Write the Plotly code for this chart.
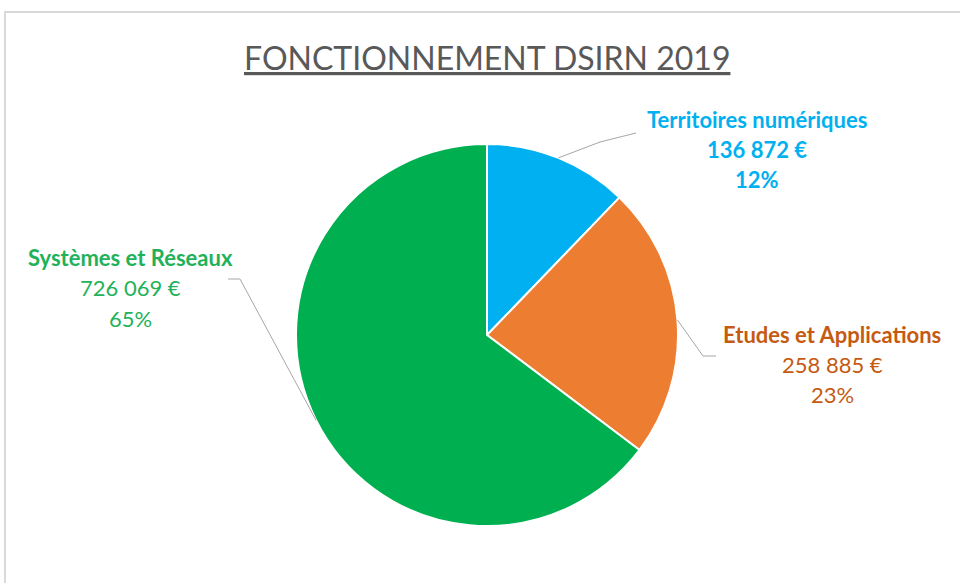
import math
import plotly.graph_objects as go

## data
labels = ["Territoires numériques", "Etudes et Applications", "Systèmes et Réseaux"]
values = [136872, 258885, 726069]
amount_text = ["136 872 €", "258 885 €", "726 069 €"]
pct_text = ["12%", "23%", "65%"]
slice_colors = ["#00B0F0", "#ED7D31", "#00B050"]
text_colors = ["#00B0F0", "#C55A11", "#1FB25A"]

W, H = 960, 583
cx, cy, r = 487, 335, 191


def px(x):
    return x / W


def py(y):
    return 1 - y / H


fig = go.Figure(go.Pie(
    labels=labels, values=values, sort=False, direction="clockwise",
    rotation=0, textinfo="none", hoverinfo="label+value+percent",
    marker=dict(colors=slice_colors, line=dict(color="white", width=2)),
    domain=dict(x=[px(cx - r), px(cx + r)], y=[py(cy + r), py(cy - r)]),
    showlegend=False,
))

# label blocks: centre x, first-line y (pixels), elbow points for leader line
label_pos = [
    dict(x=757, y=119, bold_all=True, elbow=[(600, 142), (636, 133)]),
    dict(x=832, y=334, bold_all=False, elbow=[(703, 356), (716, 356)]),
    dict(x=130, y=258, bold_all=False, elbow=[(240, 279), (228, 279)]),
]

total = sum(values)
cum = 0
for i, v in enumerate(values):
    mid = (cum + v / 2) / total * 2 * math.pi
    cum += v
    ex = cx + r * math.sin(mid)
    ey = cy - r * math.cos(mid)
    lp = label_pos[i]
    pts = [(ex, ey)] + lp["elbow"]
    path = "M " + " L ".join(f"{px(a)},{py(b)}" for a, b in pts)
    fig.add_shape(type="path", xref="paper", yref="paper", path=path,
                  line=dict(color="#A6A6A6", width=1))
    lines = [labels[i], amount_text[i], pct_text[i]]
    for k, t in enumerate(lines):
        txt = f"<b>{t}</b>" if (k == 0 or lp["bold_all"]) else t
        fig.add_annotation(text=txt, x=px(lp["x"]), y=py(lp["y"] + 30 * k),
                           xref="paper", yref="paper", showarrow=False,
                           xanchor="center", yanchor="middle",
                           font=dict(family="Lato", size=22, color=text_colors[i]))

# title
fig.add_annotation(text="<u>FONCTIONNEMENT DSIRN 2019</u>", x=px(487), y=py(58),
                   xref="paper", yref="paper", showarrow=False,
                   xanchor="center", yanchor="middle",
                   font=dict(family="Lato", size=32, color="#595959"))

# chart frame
fig.add_shape(type="rect", xref="paper", yref="paper",
              x0=px(5), x1=px(975), y0=py(600), y1=py(12),
              line=dict(color="#D9D9D9", width=2))

fig.update_layout(
    width=W, height=H,
    margin=dict(l=0, r=0, t=0, b=0),
    paper_bgcolor="white", plot_bgcolor="white",
    font_family="Lato",
)

fig.write_html("out.html", config={"displayModeBar": False},
               post_script="document.body.style.margin='0';")
